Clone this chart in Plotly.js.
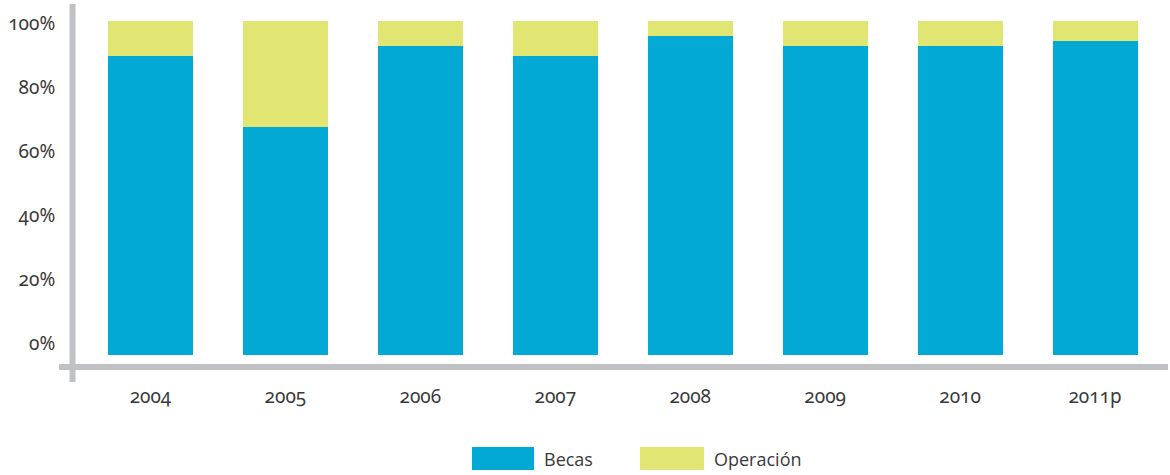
<!DOCTYPE html>
<html>
<head>
<meta charset="utf-8">
<script src="https://cdn.plot.ly/plotly-3.0.1.min.js"></script>
<style>
  html, body { margin: 0; padding: 0; background: #fff; }
  #chart { width: 1170px; height: 475px; }
  .xtick text, .ytick text { font-variant-numeric: oldstyle-nums !important; font-feature-settings: "onum" 1 !important; }
</style>
</head>
<body>
<div id="chart"></div>
<script>
// Data
const years = ["2004", "2005", "2006", "2007", "2008", "2009", "2010", "2011p"];
const seriesNames = ["Becas", "Operación"];
const becas = [89.5, 68.3, 92.5, 89.5, 95.5, 92.5, 92.5, 94.0];
const operacion = [10.5, 31.7, 7.5, 10.5, 4.5, 7.5, 7.5, 6.0];
const yTickLabels = ["0%", "20%", "40%", "60%", "80%", "100%"];
const yTickValues = [3.6, 22.7, 41.85, 61.0, 80.1, 99.25];

const colors = ["#02a9d5", "#e1e672"];
const axisGray = "#c0c1c5";
const tickFont = { family: "'Noto Sans', Lato, sans-serif", size: 19, color: "#3a3a3a" };

const traces = [
  { type: "bar", name: seriesNames[0], x: years, y: becas, marker: { color: colors[0] }, showlegend: false, hoverinfo: "x+y+name" },
  { type: "bar", name: seriesNames[1], x: years, y: operacion, marker: { color: colors[1] }, showlegend: false, hoverinfo: "x+y+name" }
];

const W = 1170, H = 475;
const plotL = 72, plotR = 1168, plotT = 4, plotB = 373;
function px2paperX(px) { return (px - plotL) / (plotR - plotL); }
function px2paperY(py) { return (plotB - py) / (plotB - plotT); }

// Custom legend (large swatches) built from the series names
const legendSwatches = [
  { x0: 472, x1: 534, y0: 447, y1: 470 },
  { x0: 640, x1: 704, y0: 447, y1: 470 }
];
const shapes = [
  // y axis line
  { type: "line", xref: "paper", yref: "paper", x0: px2paperX(72.5), x1: px2paperX(72.5), y0: px2paperY(382), y1: 1, line: { color: axisGray, width: 6 } },
  // x axis line
  { type: "line", xref: "paper", yref: "paper", x0: px2paperX(59), x1: 1, y0: px2paperY(367), y1: px2paperY(367), line: { color: axisGray, width: 6 } }
];
const annotations = [];
legendSwatches.forEach((s, i) => {
  shapes.push({ type: "rect", xref: "paper", yref: "paper",
    x0: px2paperX(s.x0), x1: px2paperX(s.x1), y0: px2paperY(s.y1), y1: px2paperY(s.y0),
    fillcolor: colors[i], line: { width: 0 } });
  annotations.push({ xref: "paper", yref: "paper", x: px2paperX(s.x1 + 8), y: px2paperY((s.y0 + s.y1) / 2),
    xanchor: "left", yanchor: "middle", showarrow: false, text: seriesNames[i],
    font: { family: "'Open Sans', sans-serif", size: 18, color: "#3a3a3a" } });
});

const layout = {
  width: W, height: H,
  margin: { l: plotL, r: W - plotR, t: plotT, b: H - plotB },
  paper_bgcolor: "#ffffff", plot_bgcolor: "#ffffff",
  barmode: "stack",
  bargap: 0.37,
  showlegend: false,
  xaxis: {
    type: "category",
    range: [-0.5815, 7.541],
    showgrid: false, zeroline: false, showline: false,
    ticks: "outside", ticklen: 6, tickcolor: "rgba(0,0,0,0)",
    tickfont: tickFont, fixedrange: true
  },
  yaxis: {
    range: [-5.39, 105.09],
    showgrid: false, zeroline: false, showline: false,
    tickvals: yTickValues, ticktext: yTickLabels,
    ticks: "outside", ticklen: 12, tickcolor: "rgba(0,0,0,0)",
    tickfont: tickFont, fixedrange: true
  },
  shapes: shapes,
  annotations: annotations
};

Plotly.newPlot("chart", traces, layout, { displayModeBar: false });
</script>
</body>
</html>
